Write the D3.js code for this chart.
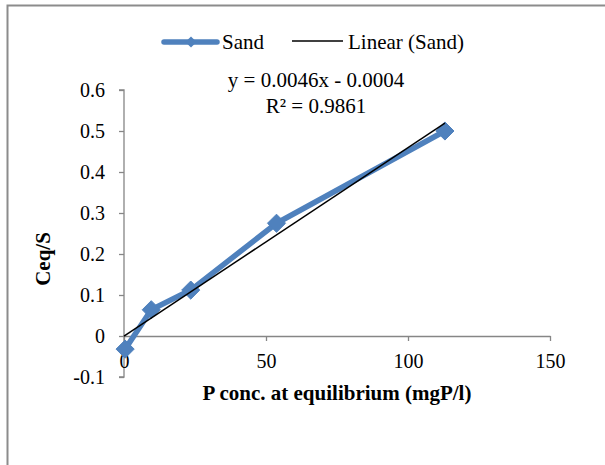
<!DOCTYPE html>
<html><head><meta charset="utf-8">
<script src="https://cdn.jsdelivr.net/npm/d3@7"></script>
<style>body{margin:0;background:#fff}svg{display:block}text{font-family:"Liberation Serif","Times New Roman",serif;fill:#000}</style>
</head><body><svg id="c" width="605" height="465"></svg>
<script>
const xValues = [0.4, 9.6, 23.5, 53.7, 113];
const yValues = [-0.032, 0.064, 0.112, 0.275, 0.5];
const xTicks = [0, 50, 100, 150];
const yTicks = [-0.1, 0, 0.1, 0.2, 0.3, 0.4, 0.5, 0.6];
const trendCoef = [0.0046, -0.0004]; // slope, intercept
const seriesName = "Sand";
const trendName = "Linear (Sand)";
const eqText = "y = 0.0046x - 0.0004";
const r2Text = "R² = 0.9861";
const xTitle = "P conc. at equilibrium (mgP/l)";
const yTitle = "Ceq/S";

const svg = d3.select("#c");
const blue = "#4F81BD", axisCol = "#868686";
const x = d3.scaleLinear().domain([0,150]).range([124,550]);
const y = d3.scaleLinear().domain([-0.1,0.6]).range([377,90]);

// frame (top and left visible)
svg.append("path").attr("d","M7.5,465 L7.5,5.5 L605,5.5").attr("fill","none").attr("stroke","#8c8c8c").attr("stroke-width",2);

// y axis
const ya = svg.append("g").attr("transform",`translate(${x(0)},0)`)
  .call(d3.axisLeft(y).tickValues(yTicks).tickSize(5).tickPadding(14).tickFormat(d=>String(+d.toFixed(1))));
// x axis at y=0
const xa = svg.append("g").attr("transform",`translate(0,${y(0)})`)
  .call(d3.axisBottom(x).tickValues(xTicks).tickSize(5).tickSizeOuter(0).tickPadding(14).tickFormat(d=>String(d)));
[ya,xa].forEach(g=>{
  g.attr("font-family",'"Liberation Serif",serif').attr("font-size",20);
  g.select(".domain").attr("stroke",axisCol).attr("stroke-width",1.3);
  g.selectAll(".tick line").attr("stroke",axisCol).attr("stroke-width",1.3);
  g.selectAll("text").style("font-family",'"Liberation Serif",serif').style("font-size","20px").attr("fill","#000");
});
ya.select(".domain").attr("d",`M-5,${y(0.6)}H0V${y(-0.1)}H-5`);
xa.selectAll(".tick text").attr("dy","0.71em").attr("y",18);
ya.selectAll(".tick text").attr("x",-19);

// series line
const pts = xValues.map((v,i)=>[v,yValues[i]]);
svg.append("path").datum(pts).attr("fill","none").attr("stroke",blue).attr("stroke-width",5.5)
  .attr("stroke-linejoin","round").attr("stroke-linecap","round")
  .attr("d",d3.line().x(d=>x(d[0])).y(d=>y(d[1])));
svg.selectAll(".mk").data(pts).join("path").attr("class","mk")
  .attr("transform",d=>`translate(${x(d[0])},${y(d[1])})`)
  .attr("d",d3.symbol(d3.symbolDiamond2,210)).attr("fill",blue).attr("stroke",blue).attr("stroke-width",1);

// trendline
const xmin = 0, xmax = d3.max(xValues);
svg.append("line").attr("x1",x(xmin)).attr("y1",y(trendCoef[0]*xmin+trendCoef[1]))
  .attr("x2",x(xmax)).attr("y2",y(trendCoef[0]*xmax+trendCoef[1]))
  .attr("stroke","#000").attr("stroke-width",1.5);

// legend
const lg = svg.append("g");
lg.append("line").attr("x1",164).attr("x2",217).attr("y1",42).attr("y2",42).attr("stroke",blue).attr("stroke-width",5.5).attr("stroke-linecap","round");
lg.append("path").attr("transform","translate(191,42)").attr("d",d3.symbol(d3.symbolDiamond2,80)).attr("fill",blue);
lg.append("text").attr("x",222).attr("y",49).style("font-size","21px").text(seriesName);
lg.append("line").attr("x1",292).attr("x2",343).attr("y1",41).attr("y2",41).attr("stroke","#000").attr("stroke-width",1.5);
lg.append("text").attr("x",348).attr("y",49).style("font-size","21px").text(trendName);

// equation
svg.append("text").attr("x",316).attr("y",87).attr("text-anchor","middle").style("font-size","21px").text(eqText);
svg.append("text").attr("x",316).attr("y",113).attr("text-anchor","middle").style("font-size","21px").text(r2Text);

// axis titles
svg.append("text").attr("x",337).attr("y",400).attr("text-anchor","middle").style("font-size","21px").style("font-weight","bold").text(xTitle);
svg.append("text").attr("transform","translate(50,259) rotate(-90)").attr("text-anchor","middle").style("font-size","21px").style("font-weight","bold").text(yTitle);
</script></body></html>
